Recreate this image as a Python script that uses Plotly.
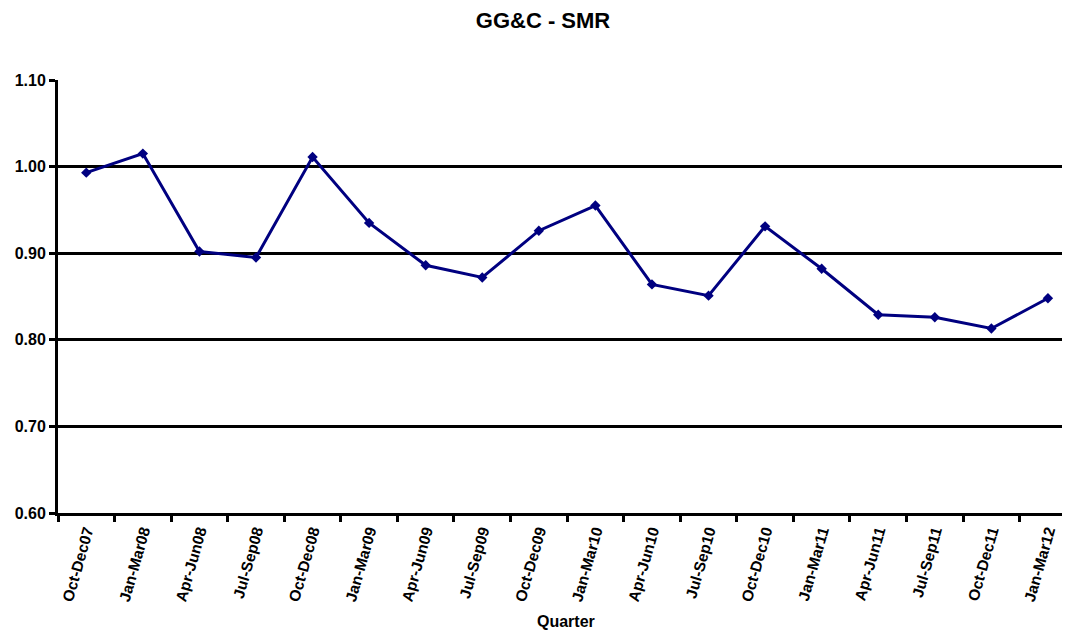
import plotly.graph_objects as go

quarters = ["Oct-Dec07", "Jan-Mar08", "Apr-Jun08", "Jul-Sep08", "Oct-Dec08", "Jan-Mar09",
            "Apr-Jun09", "Jul-Sep09", "Oct-Dec09", "Jan-Mar10", "Apr-Jun10", "Jul-Sep10",
            "Oct-Dec10", "Jan-Mar11", "Apr-Jun11", "Jul-Sep11", "Oct-Dec11", "Jan-Mar12"]
smr = [0.993, 1.015, 0.902, 0.895, 1.011, 0.935, 0.886, 0.872, 0.926, 0.955,
       0.864, 0.851, 0.931, 0.882, 0.829, 0.826, 0.813, 0.848]
y_ticks = [0.60, 0.70, 0.80, 0.90, 1.00, 1.10]
y_tick_labels = ["0.60", "0.70", "0.80", "0.90", "1.00", "1.10"]

FONT = "Liberation Sans, Arial, sans-serif"

# page body adds an ~8px offset; compensate so the plot lands where the reference has it
W, H = 1062, 624

fig = go.Figure()
fig.add_trace(go.Scatter(
    x=quarters, y=smr, mode="lines+markers",
    line=dict(color="#000080", width=3),
    marker=dict(symbol="diamond", size=8, color="#000080"),
    showlegend=False,
))

fig.update_layout(
    width=W, height=H,
    margin=dict(l=50, r=0, t=72, b=H - 72 - 433),
    paper_bgcolor="white", plot_bgcolor="white",
    font=dict(family=FONT, color="black"),
    title=dict(text="<b>GG&C - SMR</b>", x=535 / W, xref="container", xanchor="center",
               y=1 - 12 / H, yref="container", yanchor="middle",
               font=dict(size=22, family=FONT, color="black")),
)

fig.update_xaxes(
    type="category", range=[-0.5, 17.39],
    showline=True, linecolor="black", linewidth=3,
    showgrid=False,
    ticks="outside", ticklen=6, tickwidth=2.5, tickcolor="black",
    tickson="boundaries",
    tickangle=-74,
    tickfont=dict(size=15.5, family=FONT, color="black", weight="bold"),
)
fig.update_yaxes(
    range=[0.60, 1.10],
    tickvals=y_ticks, ticktext=y_tick_labels,
    showline=True, linecolor="black", linewidth=3,
    showgrid=True, gridcolor="black", gridwidth=2.5,
    zeroline=False,
    ticks="outside", ticklen=6, tickwidth=2.5, tickcolor="black",
    tickfont=dict(size=16, family=FONT, color="black", weight="bold"),
)

fig.add_annotation(
    text="<b>Quarter</b>", xref="paper", yref="paper",
    x=(566 - 58) / 1012, y=(513 - 621) / 433,
    xanchor="center", yanchor="middle", showarrow=False,
    font=dict(size=16, family=FONT, color="black"),
)

fig.write_html("out.html")
